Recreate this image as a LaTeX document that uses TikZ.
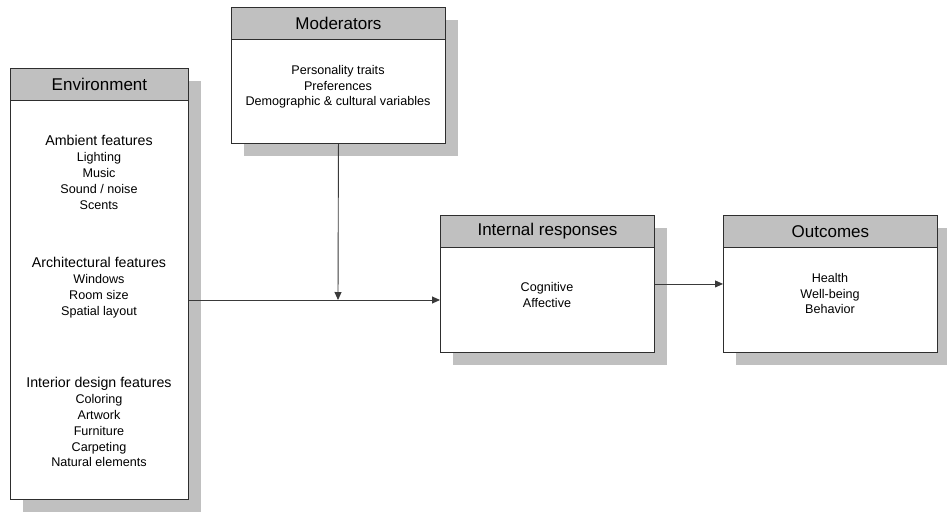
\documentclass[tikz,border=0pt]{standalone}
\usepackage{fontspec}
\setmainfont{Liberation Sans}
\usetikzlibrary{arrows.meta}
\definecolor{boxline}{HTML}{2E2E2E}
\definecolor{headfill}{HTML}{C0C0C0}
\definecolor{shadowgray}{HTML}{C0C0C0}
\definecolor{linkline}{HTML}{3A3A3A}
\begin{document}
\begin{tikzpicture}[x=1pt,y=-1pt,
  panel/.style={draw=boxline, line width=0.9pt, fill=white, rectangle,
    inner sep=0pt, anchor=north west},
  head/.style={draw=boxline, line width=0.9pt, fill=headfill, rectangle,
    inner sep=0pt, anchor=north west, minimum height=32pt,
    font=\fontsize{17}{20}\selectfont},
  body/.style={align=center, inner sep=0pt, anchor=north,
    font=\fontsize{12.6}{15.8}\selectfont},
  subhead/.style={font=\fontsize{14.2}{15.8}\selectfont},
  link/.style={draw=linkline, line width=0.9pt,
    -{Triangle[length=8pt,width=7pt]}}]
\useasboundingbox (0,0) rectangle (947,512);

% drop shadows
\fill[shadowgray] (23,81) rectangle (201,512);
\fill[shadowgray] (244,20) rectangle (458,156);
\fill[shadowgray] (453,228) rectangle (667,365);
\fill[shadowgray] (736,228) rectangle (950,365);

% Environment
\node[panel, minimum width=178pt, minimum height=431pt] (env) at (10,68) {};
\node[head, minimum width=178pt] (envh) at (10,68) {Environment};
\node[body] (amb) at (99,135.5) {{\fontsize{14.2}{15.8}\selectfont Ambient features}\\Lighting\\Music\\Sound / noise\\Scents};
\node[body] (arch) at (99,257.5) {{\fontsize{14.2}{15.8}\selectfont Architectural features}\\Windows\\Room size\\Spatial layout};
\node[body] (inter) at (99,377.5) {{\fontsize{14.2}{15.8}\selectfont Interior design features}\\Coloring\\Artwork\\Furniture\\Carpeting\\Natural elements};

% Moderators
\node[panel, minimum width=214pt, minimum height=136pt] (mod) at (231,7) {};
\node[head, minimum width=214pt] (modh) at (231,7) {Moderators};
\node[body] (modt) at (338,65) {Personality traits\\Preferences\\Demographic \& cultural variables};

% Internal responses
\node[panel, minimum width=214pt, minimum height=137pt] (int) at (440,215) {};
\node[head, minimum width=214pt] (inth) at (440,215) {Internal responses};
\node[body] (intt) at (547,282) {Cognitive\\Affective};

% Outcomes
\node[panel, minimum width=214pt, minimum height=137pt] (out) at (723,215) {};
\node[head, minimum width=214pt] (outh) at (723,215) {Outcomes};
\node[body] (outt) at (830,273) {Health\\Well-being\\Behavior};

% connectors
\coordinate (join) at (338,300);
\draw[link] (env.east |- join) -- (int.west |- join);
\draw[link] (mod.south) -- (join);
\draw[link] (int.east) -- (out.west);
\end{tikzpicture}
\end{document}
